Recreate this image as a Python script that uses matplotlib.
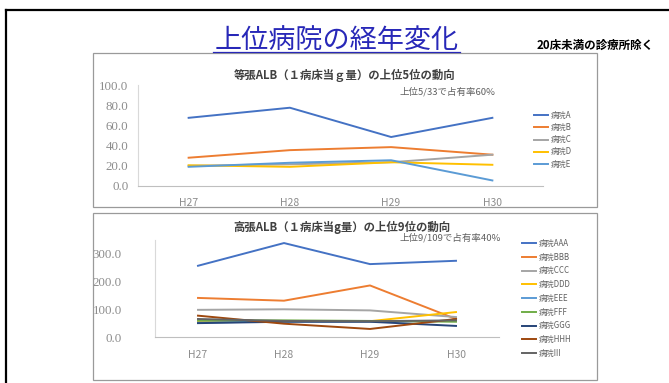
import matplotlib.pyplot as plt
import matplotlib.patches as patches
from matplotlib.lines import Line2D

plt.rcParams['font.family'] = ['Noto Sans CJK JP', 'DejaVu Sans']

# data
years = ['H27', 'H28', 'H29', 'H30']

top_names = ['病院A', '病院B', '病院C', '病院D', '病院E']
top_vals = [
    [67.5, 77.5, 48.5, 67.5],
    [28.0, 35.5, 38.5, 31.0],
    [20.0, 21.5, 23.5, 31.0],
    [20.5, 19.0, 23.5, 21.0],
    [19.0, 23.0, 25.5, 5.5],
]

bot_names = ['病院AAA', '病院BBB', '病院CCC', '病院DDD', '病院EEE',
             '病院FFF', '病院GGG', '病院HHH', '病院III']
bot_vals = [
    [257, 339, 263, 275],
    [141, 131, 186, 65],
    [98, 100, 96, 72],
    [55, 57, 57, 90],
    [52, 56, 56, 58],
    [60, 60, 58, 55],
    [50, 55, 55, 40],
    [77, 48, 29, 65],
    [65, 58, 57, 60],
]

colors = ['#4472C4', '#ED7D31', '#A5A5A5', '#FFC000', '#5B9BD5',
          '#70AD47', '#264478', '#9E480E', '#636363']

W, H = 669, 383
fig = plt.figure(figsize=(W / 100, H / 100), dpi=100)


def px_axes(l, t, r, b):
    return fig.add_axes([l / W, 1 - b / H, (r - l) / W, (b - t) / H])


def fx(x):
    return x / W


def fy(y):
    return 1 - y / H


# outer frame (only top and left are visible)
fig.add_artist(Line2D([fx(6), fx(669)], [fy(10), fy(10)], color='black', lw=1.6))
fig.add_artist(Line2D([fx(6), fx(6)], [fy(10), fy(383)], color='black', lw=1.6))

# chart boxes
for t, b in [(53, 207), (213, 380)]:
    fig.add_artist(patches.Rectangle((fx(93), fy(b)), fx(597) - fx(93), fy(t) - fy(b),
                                     fill=False, edgecolor='#9a9a9a', lw=0.9))

# main title
fig.text(fx(337), fy(40), '上位病院の経年変化', color='#2828b8', fontsize=19.5,
         ha='center', va='center')
fig.add_artist(Line2D([fx(213), fx(460)], [fy(52), fy(52)], color='#2828b8', lw=0.9))
fig.text(fx(595), fy(45), '20床未満の診療所除く', color='black', fontsize=8.3,
         fontweight='bold', ha='center', va='center')


def style(ax, ymax, ticks, pad_y):
    ax.set_xlim(-0.5, 3.5)
    ax.set_ylim(0, ymax)
    ax.set_yticks(ticks)
    ax.set_yticklabels([f'{v:.1f}' for v in ticks], color='#8c8c8c', fontsize=9.3,
                       family=['Liberation Serif', 'DejaVu Serif'])
    ax.set_xticks(range(len(years)))
    ax.set_xticklabels(years, color='#8c8c8c', fontsize=7.5)
    ax.tick_params(axis='both', length=0)
    ax.tick_params(axis='y', pad=pad_y)
    ax.tick_params(axis='x', pad=9)
    for s in ['top', 'right']:
        ax.spines[s].set_visible(False)
    ax.spines['left'].set_color('#d9d9d9')
    ax.spines['bottom'].set_color('#bfbfbf')
    ax.patch.set_alpha(0)


# top chart
ax1 = px_axes(138, 85, 543, 186)
for name, vals, c in zip(top_names, top_vals, colors):
    ax1.plot(range(len(years)), vals, color=c, lw=1.4, label=name)
style(ax1, 100, [0, 20, 40, 60, 80, 100], 7)
fig.text(fx(345), fy(75), '等張ALB（１病床当ｇ量）の上位5位の動向', color='#404040',
         fontsize=8.2, fontweight='bold', ha='center', va='center')
fig.text(fx(447), fy(92), '上位5/33で占有率60%', color='#606060', fontsize=6.8,
         ha='center', va='center')
ax1.legend(loc='upper left', bbox_to_anchor=(fx(530), fy(107)), bbox_transform=fig.transFigure,
           frameon=False, fontsize=5.7, handlelength=1.8, handletextpad=0.3,
           labelspacing=0.4, borderpad=0, labelcolor='#606060')

# bottom chart
ax2 = px_axes(155, 240, 499, 337)
for name, vals, c in zip(bot_names, bot_vals, colors):
    ax2.plot(range(len(years)), vals, color=c, lw=1.4, label=name)
style(ax2, 350, [0, 100, 200, 300], 24)
fig.text(fx(342), fy(227), '高張ALB（１病床当g量）の上位9位の動向', color='#404040',
         fontsize=8.2, fontweight='bold', ha='center', va='center')
fig.text(fx(450), fy(238), '上位9/109で占有率40%', color='#606060', fontsize=6.8,
         ha='center', va='center')
ax2.legend(loc='upper left', bbox_to_anchor=(fx(518), fy(235)), bbox_transform=fig.transFigure,
           frameon=False, fontsize=5.7, handlelength=1.8, handletextpad=0.3,
           labelspacing=0.6, borderpad=0, labelcolor='#606060')

fig.savefig('out.png', dpi=100)
